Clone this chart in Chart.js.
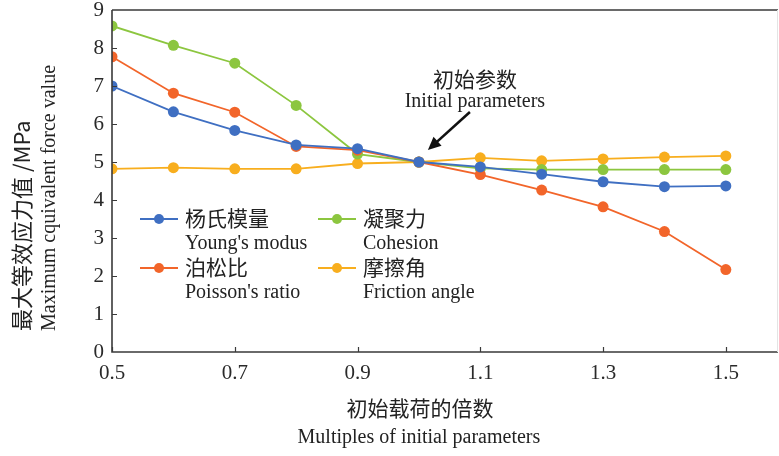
<!DOCTYPE html>
<html>
<head>
<meta charset="utf-8">
<script src="https://cdn.jsdelivr.net/npm/chart.js@4/dist/chart.umd.min.js"></script>
<style>
  html, body { margin: 0; padding: 0; background: #ffffff; }
  #wrap { width: 779px; height: 456px; }
</style>
</head>
<body>
<div id="wrap"><canvas id="c" width="779" height="456"></canvas></div>
<script>
// Multiples of the initial parameters (x axis)
const multiples = [0.5, 0.6, 0.7, 0.8, 0.9, 1.0, 1.1, 1.2, 1.3, 1.4, 1.5];
const xTickValues = [0.5, 0.7, 0.9, 1.1, 1.3, 1.5];

// Maximum equivalent force value (MPa) for each varied parameter
const youngsModulus = [7.00, 6.32, 5.83, 5.45, 5.35, 5.00, 4.87, 4.68, 4.48, 4.35, 4.37];
const poissonsRatio = [7.77, 6.81, 6.31, 5.41, 5.31, 5.00, 4.67, 4.26, 3.82, 3.17, 2.17];
const cohesion      = [8.58, 8.07, 7.60, 6.49, 5.21, 5.00, 4.83, 4.80, 4.80, 4.80, 4.80];
const frictionAngle = [4.82, 4.85, 4.82, 4.82, 4.96, 5.00, 5.11, 5.03, 5.08, 5.13, 5.16];

const seriesNamesZh = ['杨氏模量', '泊松比', '凝聚力', '摩擦角'];
const seriesNamesEn = ["Young's modus", "Poisson's ratio", 'Cohesion', 'Friction angle'];
const seriesColors  = ['#3f6fc2', '#f2652a', '#8cc63f', '#f8ae1e'];

const serif = '"Liberation Serif", "DejaVu Serif", serif';
const cjk = '"Noto Sans CJK SC", sans-serif';

function toPoints(values) {
  return values.map((v, i) => ({ x: multiples[i], y: v }));
}

const seriesValues = [youngsModulus, poissonsRatio, cohesion, frictionAngle];
const datasets = seriesValues.map((vals, i) => ({
  label: seriesNamesZh[i],
  data: toPoints(vals),
  borderColor: seriesColors[i],
  backgroundColor: seriesColors[i],
  borderWidth: 1.8,
  pointRadius: 5.5,
  pointHoverRadius: 5.5,
  pointBorderWidth: 0,
  tension: 0
}));

// Axes frame, inward tick marks, titles, legend and the annotation arrow
const decorations = {
  id: 'decorations',
  afterDraw(chart) {
    const { ctx, chartArea: a, scales: { x, y } } = chart;
    ctx.save();

    // frame
    ctx.strokeStyle = '#3a3a3a';
    ctx.lineWidth = 1.6;
    ctx.beginPath();
    ctx.moveTo(a.left, a.top);
    ctx.lineTo(a.left, a.bottom);
    ctx.lineTo(a.right, a.bottom);
    ctx.moveTo(a.left, a.top);
    ctx.lineTo(a.right, a.top);
    ctx.stroke();
    ctx.strokeStyle = '#e4e4e4';
    ctx.lineWidth = 1;
    ctx.beginPath();
    ctx.moveTo(a.right - 0.5, a.top);
    ctx.lineTo(a.right - 0.5, a.bottom);
    ctx.stroke();

    // inward ticks
    ctx.strokeStyle = '#3a3a3a';
    ctx.lineWidth = 1.2;
    ctx.beginPath();
    xTickValues.forEach(v => {
      const px = Math.round(x.getPixelForValue(v)) + 0.5;
      ctx.moveTo(px, a.bottom);
      ctx.lineTo(px, a.bottom - 5);
    });
    for (let v = 1; v < 9; v++) {
      const py = Math.round(y.getPixelForValue(v)) + 0.5;
      ctx.moveTo(a.left, py);
      ctx.lineTo(a.left + 5, py);
    }
    ctx.stroke();

    // axis titles
    ctx.fillStyle = '#222';
    ctx.textBaseline = 'middle';
    ctx.textAlign = 'center';
    const cx = x.getPixelForValue(1.0);
    ctx.font = '21px ' + cjk;
    ctx.fillText('初始载荷的倍数', cx + 1, 408);
    ctx.font = '20px ' + serif;
    ctx.fillText('Multiples of initial parameters', cx, 438);

    ctx.save();
    ctx.translate(22, 331);
    ctx.rotate(-Math.PI / 2);
    ctx.textAlign = 'left';
    ctx.font = '22px ' + cjk;
    ctx.fillText('最大等效应力值 /MPa', 0, 0);
    ctx.restore();
    ctx.save();
    ctx.translate(50, 331);
    ctx.rotate(-Math.PI / 2);
    ctx.textAlign = 'left';
    ctx.font = '20px ' + serif;
    ctx.fillText('Maximum cquivalent force value', 0, 0);
    ctx.restore();

    // legend: two columns, Chinese name with English name beneath
    const cols = [140, 318];
    const rows = [3.5, 2.2];
    const order = [[0, 0, 0], [1, 0, 1], [2, 1, 0], [3, 1, 1]]; // [series, col, row]
    order.forEach(([s, c, r]) => {
      const lx = cols[c], ly = Math.round(y.getPixelForValue(rows[r]));
      ctx.strokeStyle = seriesColors[s];
      ctx.lineWidth = 1.8;
      ctx.beginPath();
      ctx.moveTo(lx, ly);
      ctx.lineTo(lx + 38, ly);
      ctx.stroke();
      ctx.fillStyle = seriesColors[s];
      ctx.beginPath();
      ctx.arc(lx + 19, ly, 5, 0, Math.PI * 2);
      ctx.fill();
      ctx.fillStyle = '#222';
      ctx.textAlign = 'left';
      ctx.font = '21px ' + cjk;
      ctx.fillText(seriesNamesZh[s], lx + 45, ly - 1);
      ctx.font = '20px ' + serif;
      ctx.fillText(seriesNamesEn[s], lx + 45, ly + 25);
    });

    // annotation pointing at the initial parameter point
    const tx = x.getPixelForValue(1.0), ty = y.getPixelForValue(5.0);
    ctx.fillStyle = '#222';
    ctx.textAlign = 'center';
    ctx.font = '21px ' + cjk;
    ctx.fillText('初始参数', tx + 56, 79);
    ctx.font = '20px ' + serif;
    ctx.fillText('Initial parameters', tx + 56, 102);

    const x0 = tx + 51, y0 = 112, x1 = tx + 9, y1 = ty - 12;
    const ang = Math.atan2(y1 - y0, x1 - x0);
    ctx.strokeStyle = '#111';
    ctx.fillStyle = '#111';
    ctx.lineWidth = 2.6;
    ctx.beginPath();
    ctx.moveTo(x0, y0);
    ctx.lineTo(x1 - 8 * Math.cos(ang), y1 - 8 * Math.sin(ang));
    ctx.stroke();
    ctx.beginPath();
    ctx.moveTo(x1, y1);
    ctx.lineTo(x1 - 13 * Math.cos(ang) + 6 * Math.sin(ang), y1 - 13 * Math.sin(ang) - 6 * Math.cos(ang));
    ctx.lineTo(x1 - 13 * Math.cos(ang) - 6 * Math.sin(ang), y1 - 13 * Math.sin(ang) + 6 * Math.cos(ang));
    ctx.closePath();
    ctx.fill();

    ctx.restore();
  }
};

new Chart(document.getElementById('c'), {
  type: 'line',
  data: { datasets },
  options: {
    responsive: false,
    devicePixelRatio: 1,
    animation: false,
    layout: { autoPadding: false, padding: { left: 0, right: 1, top: 10, bottom: 0 } },
    plugins: { legend: { display: false }, tooltip: { enabled: false } },
    scales: {
      x: {
        type: 'linear',
        min: 0.5,
        max: 1.585,
        grid: { display: false, drawTicks: false },
        border: { display: false },
        afterBuildTicks(scale) {
          scale.ticks = xTickValues.map(v => ({ value: v }));
        },
        afterFit(scale) {
          scale.height = 104;
          scale.paddingLeft = 0;
          scale.paddingRight = 0;
        },
        ticks: {
          padding: 9,
          color: '#2a2a2a',
          font: { family: serif, size: 21 },
          callback: v => v.toFixed(1)
        }
      },
      y: {
        min: 0,
        max: 9,
        grid: { display: false, drawTicks: false },
        border: { display: false },
        afterFit(scale) {
          scale.width = 112;
          scale.paddingTop = 0;
          scale.paddingBottom = 0;
        },
        ticks: {
          stepSize: 1,
          padding: 8,
          color: '#2a2a2a',
          font: { family: serif, size: 21 }
        }
      }
    }
  },
  plugins: [decorations]
});
</script>
</body>
</html>
